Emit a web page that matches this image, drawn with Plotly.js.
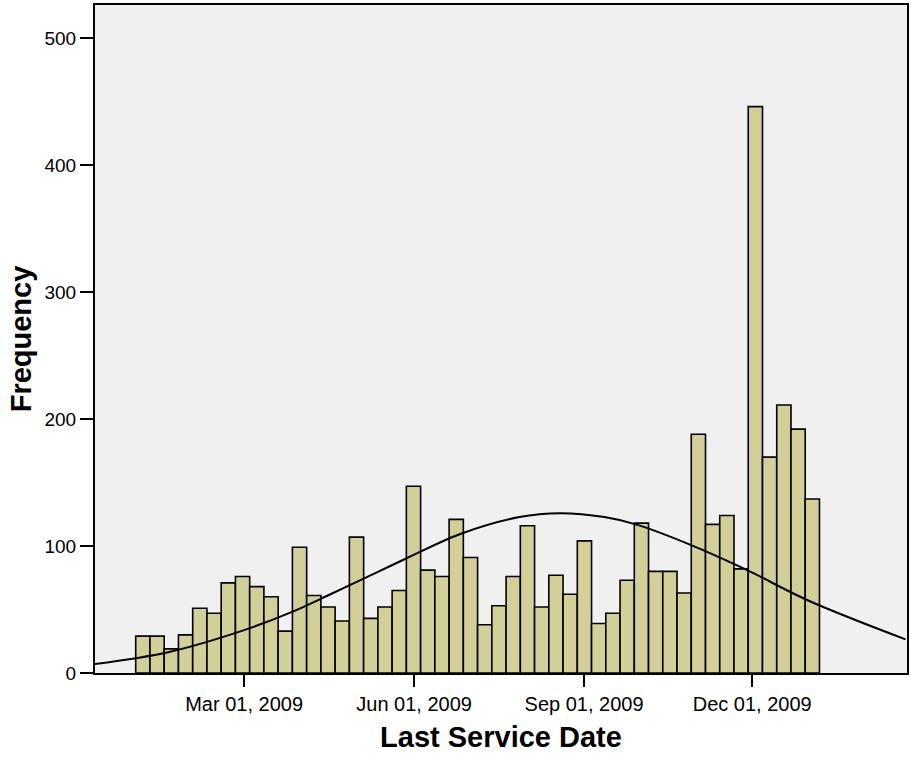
<!DOCTYPE html>
<html>
<head>
<meta charset="utf-8">
<script src="https://cdn.plot.ly/plotly-3.0.1.min.js"></script>
<style>html,body{margin:0;padding:0;background:#fff;}#chart{width:911px;height:758px;}</style>
</head>
<body>
<div id="chart"></div>
<script>
// Histogram of last service dates (weekly-ish bins, ~7.71 days wide)
const binStart = '2009-01-01T08:00:00';
const binWidthDays = 7.71;
const frequencies = [29, 29, 19, 30, 51, 47, 71, 76, 68, 60,
  33, 99, 61, 52, 41, 107, 43, 52, 65, 147,
  81, 76, 121, 91, 38, 53, 76, 116, 52, 77,
  62, 104, 39, 47, 73, 118, 80, 80, 63, 188,
  117, 124, 82, 446, 170, 211, 192, 137];

// Normal curve
const curveDates = ['2008-12-10', '2009-01-20', '2009-03-01', '2009-03-26', '2009-04-17',
  '2009-05-05', '2009-05-26', '2009-06-26', '2009-07-28', '2009-08-19',
  '2009-09-12', '2009-09-29', '2009-10-28', '2009-11-28', '2009-12-31',
  '2010-02-22'];
const curveValues = [7, 16.8, 33.8, 47.5, 62.2,
  74.5, 89, 109.5, 122.8, 125.8,
  122.8, 117, 101.3, 81.2, 57.3,
  26.5];

const xTickVals = ['2009-03-01', '2009-06-01', '2009-09-01', '2009-12-01'];
const xTickText = ['Mar 01, 2009', 'Jun 01, 2009', 'Sep 01, 2009', 'Dec 01, 2009'];
const yTickVals = [0, 100, 200, 300, 400, 500];

const DAY = 86400000;
const t0 = new Date(binStart + 'Z').getTime();
const binCenters = frequencies.map((_, i) => {
  const d = new Date(t0 + (i + 0.5) * binWidthDays * DAY);
  return d.toISOString().replace('Z', '');
});

const font = 'Liberation Sans, Arial, Helvetica, sans-serif';

const traces = [
  {
    type: 'bar',
    x: binCenters,
    y: frequencies,
    width: binWidthDays * DAY,
    marker: {color: '#d3cf98', line: {color: '#000', width: 1.6}},
    hoverinfo: 'x+y'
  },
  {
    type: 'scatter',
    mode: 'lines',
    x: curveDates,
    y: curveValues,
    line: {color: '#000', width: 2, shape: 'spline', smoothing: 1},
    hoverinfo: 'skip'
  }
];

const layout = {
  width: 911,
  height: 758,
  margin: {l: 95, r: 4, t: 5, b: 85},
  paper_bgcolor: '#ffffff',
  plot_bgcolor: '#f0f0f0',
  showlegend: false,
  bargap: 0,
  font: {family: font, color: '#000'},
  xaxis: {
    type: 'date',
    range: ['2008-12-10T07:00:00', '2010-02-22T19:00:00'],
    tickmode: 'array',
    tickvals: xTickVals,
    ticktext: xTickText,
    ticks: 'outside',
    ticklen: 12,
    tickwidth: 2,
    tickcolor: '#000',
    tickfont: {size: 20, family: font, color: '#000'},
    showgrid: false,
    zeroline: false,
    showline: true,
    linecolor: '#000',
    linewidth: 2,
    mirror: true,
    title: {text: 'Last Service Date', font: {size: 29, family: font, color: '#000', weight: 'bold'}, standoff: 13}
  },
  yaxis: {
    range: [0, 526],
    tickmode: 'array',
    tickvals: yTickVals,
    ticks: 'outside',
    ticklen: 13,
    tickwidth: 2,
    tickcolor: '#000',
    tickfont: {size: 19, family: font, color: '#000'},
    showgrid: false,
    zeroline: false,
    showline: true,
    linecolor: '#000',
    linewidth: 2,
    mirror: true,
    title: {text: 'Frequency', font: {size: 29, family: font, color: '#000', weight: 'bold'}, standoff: 4}
  }
};

Plotly.newPlot('chart', traces, layout, {displayModeBar: false, staticPlot: true});
</script>
</body>
</html>
